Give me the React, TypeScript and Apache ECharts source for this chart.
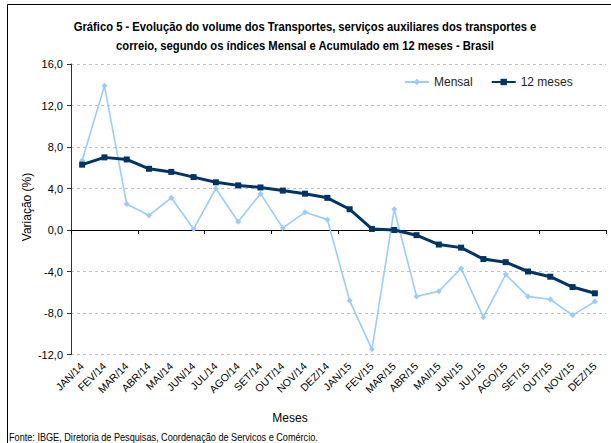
import React, { useEffect, useRef } from "react";
import * as echarts from "echarts";

const categories = [
  "JAN/14", "FEV/14", "MAR/14", "ABR/14", "MAI/14", "JUN/14", "JUL/14", "AGO/14",
  "SET/14", "OUT/14", "NOV/14", "DEZ/14", "JAN/15", "FEV/15", "MAR/15", "ABR/15",
  "MAI/15", "JUN/15", "JUL/15", "AGO/15", "SET/15", "OUT/15", "NOV/15", "DEZ/15",
];

const mensal = [
  6.7, 13.9, 2.5, 1.4, 3.1, 0.1, 4.0, 0.8, 3.5, 0.2, 1.7, 1.0,
  -6.8, -11.5, 2.0, -6.4, -5.9, -3.7, -8.4, -4.3, -6.4, -6.7, -8.2, -6.9,
];

const acumulado12 = [
  6.3, 7.0, 6.8, 5.9, 5.6, 5.1, 4.6, 4.3, 4.1, 3.8, 3.5, 3.1,
  2.0, 0.1, 0.0, -0.5, -1.4, -1.7, -2.8, -3.1, -4.0, -4.5, -5.5, -6.1,
];

const yTicks = { min: -12, max: 16, interval: 4 };

const titleLines = [
  "Gráfico 5 - Evolução do volume dos Transportes, serviços auxiliares dos transportes e",
  "correio, segundo os índices Mensal e Acumulado em 12 meses - Brasil",
];
const footer = "Fonte: IBGE, Diretoria de Pesquisas, Coordenação de Servicos e Comércio.";

const FONT = "'Liberation Sans', Arial, sans-serif";

export default function App() {
  const ref = useRef<HTMLDivElement>(null);
  useEffect(() => {
    if (!ref.current) return;
    const chart = echarts.init(ref.current, null, { renderer: "svg" });
    chart.setOption({
      animation: false,
      backgroundColor: "#ffffff",
      textStyle: { fontFamily: FONT },
      grid: { left: 71, right: 5, top: 64, bottom: 88.5, containLabel: false },
      legend: {
        left: 404,
        top: 76,
        padding: 0,
        itemWidth: 24,
        itemHeight: 8,
        itemGap: 18,
        textStyle: { fontFamily: FONT, fontSize: 12, color: "#222" },
        data: ["Mensal", "12 meses"],
      },
      xAxis: [
        {
          type: "category",
          data: categories,
          boundaryGap: true,
          axisLine: { onZero: true, lineStyle: { color: "#000", width: 1 } },
          axisTick: { show: true, length: 4, inside: false, lineStyle: { color: "#000" } },
          axisLabel: { show: false },
          splitLine: { show: false },
        },
        {
          type: "category",
          data: categories,
          position: "bottom",
          boundaryGap: true,
          axisLine: { show: false, onZero: false },
          axisTick: { show: false },
          axisLabel: {
            show: true,
            rotate: 45,
            margin: 10,
            interval: 0,
            fontSize: 10.5,
            fontFamily: FONT,
            color: "#000",
          },
          splitLine: { show: false },
        },
      ],
      yAxis: {
        type: "value",
        min: yTicks.min,
        max: yTicks.max,
        interval: yTicks.interval,
        axisLine: { show: true, lineStyle: { color: "#333", width: 1 } },
        axisTick: { show: true, length: 4, lineStyle: { color: "#333" } },
        axisLabel: {
          margin: 8,
          fontSize: 11,
          fontFamily: FONT,
          color: "#000",
          formatter: (v: number) => v.toFixed(1).replace(".", ","),
        },
        splitLine: {
          show: true,
          lineStyle: { color: "#c0c0c0", type: [3, 3], width: 1 },
        },
      },
      series: [
        {
          name: "Mensal",
          type: "line",
          xAxisIndex: 0,
          data: mensal,
          symbol: "diamond",
          symbolSize: 6,
          lineStyle: { color: "#99ccff", width: 1.6 },
          itemStyle: { color: "#99ccff" },
          z: 2,
        },
        {
          name: "12 meses",
          type: "line",
          xAxisIndex: 0,
          data: acumulado12,
          symbol: "rect",
          symbolSize: 6,
          lineStyle: { color: "#003366", width: 3 },
          itemStyle: { color: "#003366" },
          z: 3,
        },
      ],
      graphic: [
        {
          type: "rect",
          shape: { x: 7.5, y: 4.5, width: 700, height: 600 },
          style: { fill: "none", stroke: "#000", lineWidth: 1 },
          silent: true,
          z: -1,
        },
        {
          type: "text",
          x: 305,
          y: 27,
          scaleX: 0.9,
          style: {
            text: titleLines[0],
            fontFamily: FONT,
            fontSize: 12.5,
            fontWeight: "bold",
            fill: "#000",
            align: "center",
            verticalAlign: "middle",
          },
        },
        {
          type: "text",
          x: 305,
          y: 46,
          scaleX: 0.9,
          style: {
            text: titleLines[1],
            fontFamily: FONT,
            fontSize: 12.5,
            fontWeight: "bold",
            fill: "#000",
            align: "center",
            verticalAlign: "middle",
          },
        },
        {
          type: "text",
          x: 27,
          y: 207,
          rotation: Math.PI / 2,
          style: {
            text: "Variação (%)",
            fontFamily: FONT,
            fontSize: 12,
            fill: "#000",
            align: "center",
            verticalAlign: "middle",
          },
        },
        {
          type: "text",
          x: 290,
          y: 418,
          style: {
            text: "Meses",
            fontFamily: FONT,
            fontSize: 12,
            fill: "#000",
            align: "center",
            verticalAlign: "middle",
          },
        },
        {
          type: "text",
          x: 9,
          y: 437,
          scaleX: 0.87,
          style: {
            text: footer,
            fontFamily: FONT,
            fontSize: 10.5,
            fill: "#000",
            align: "left",
            verticalAlign: "middle",
          },
        },
      ],
    });
    return () => chart.dispose();
  }, []);
  return (
    <div
      ref={ref}
      style={{ position: "absolute", left: 0, top: 0, width: 611, height: 443 }}
    />
  );
}
